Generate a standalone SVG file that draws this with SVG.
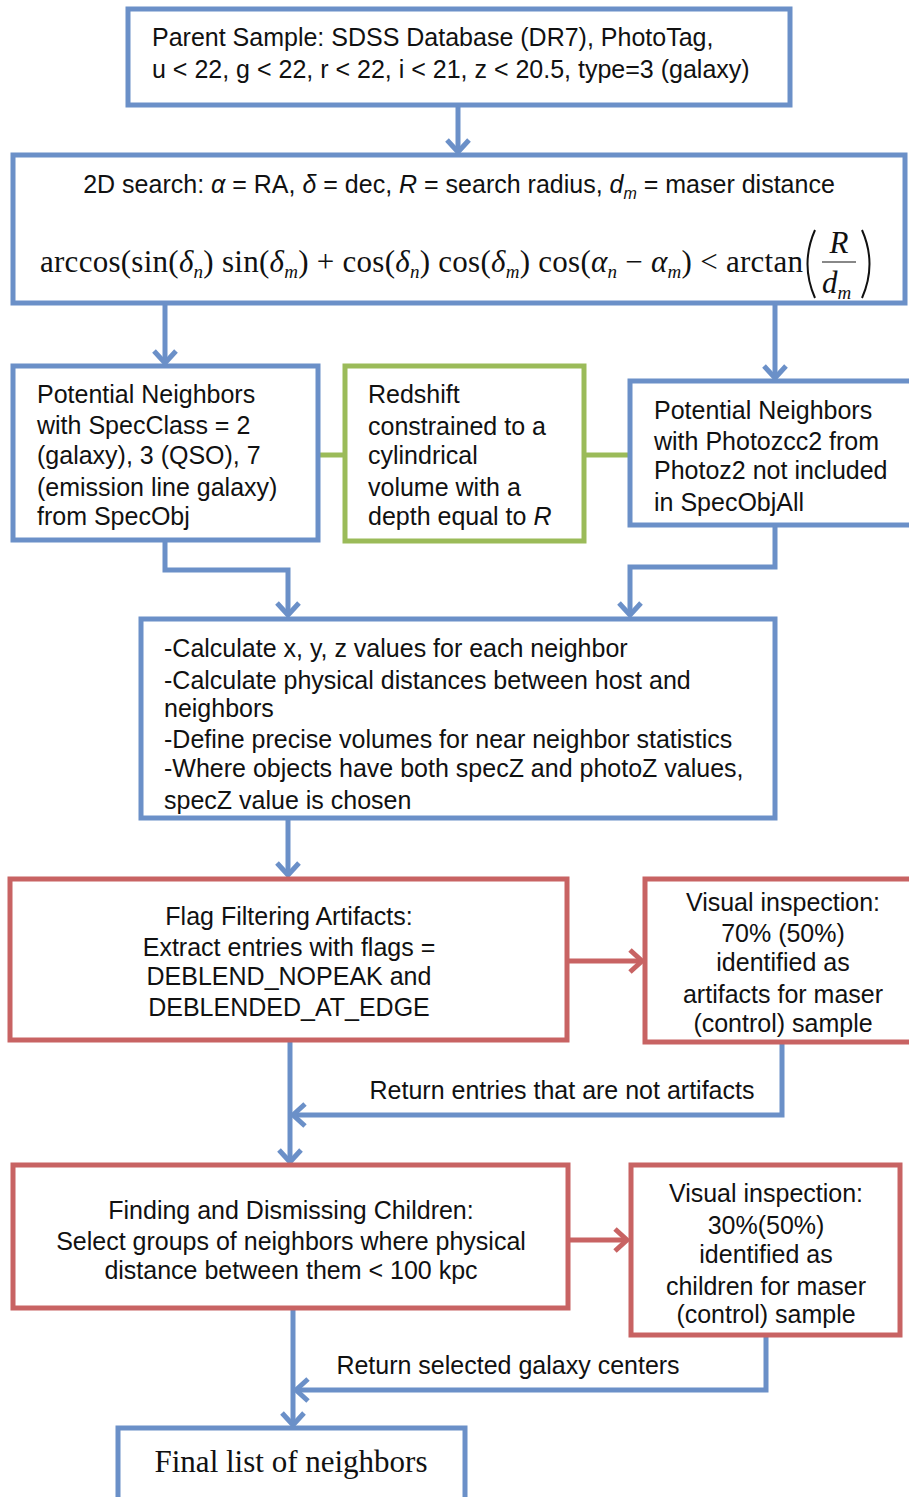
<svg xmlns="http://www.w3.org/2000/svg" width="909" height="1497" viewBox="0 0 909 1497">
<style>
.b{fill:#fff;stroke:#6b90c8;stroke-width:5}
.r{fill:#fff;stroke:#c86363;stroke-width:5}
.g{fill:#fff;stroke:#9bbb59;stroke-width:5}
.t{font-family:"Liberation Sans",Arial,sans-serif;font-size:25px;fill:#111}
.c{text-anchor:middle}
.m{font-family:"Liberation Serif","Times New Roman",serif;font-size:31px;fill:#111}
.i{font-style:italic}
.s{font-style:italic;font-size:19px}
.lb{fill:none;stroke:#6b90c8;stroke-width:5}
.lr{fill:none;stroke:#c86363;stroke-width:5}
.lg{fill:none;stroke:#9bbb59;stroke-width:5}
</style>
<defs>
<marker id="ab" markerUnits="userSpaceOnUse" markerWidth="30" markerHeight="30" refX="14" refY="11" orient="auto" viewBox="0 0 30 22" overflow="visible">
<polyline points="2,0 14,11 2,22" fill="none" stroke="#6b90c8" stroke-width="5"/>
</marker>
<marker id="ar" markerUnits="userSpaceOnUse" markerWidth="30" markerHeight="30" refX="14" refY="11" orient="auto" viewBox="0 0 30 22" overflow="visible">
<polyline points="2,0 14,11 2,22" fill="none" stroke="#c86363" stroke-width="5"/>
</marker>
</defs>
<rect width="909" height="1497" fill="#fff"/>
<g id="connectors">
<line class="lb" x1="458" y1="105" x2="458" y2="152" marker-end="url(#ab)"/>
<line class="lb" x1="165" y1="303" x2="165" y2="363" marker-end="url(#ab)"/>
<line class="lb" x1="775" y1="303" x2="775" y2="378" marker-end="url(#ab)"/>
<line class="lg" x1="318" y1="455" x2="345" y2="455"/>
<line class="lg" x1="584" y1="455" x2="630" y2="455"/>
<polyline class="lb" points="165,540 165,570 288,570 288,615" marker-end="url(#ab)"/>
<polyline class="lb" points="775,525 775,567 630,567 630,615" marker-end="url(#ab)"/>
<line class="lb" x1="288" y1="818" x2="288" y2="875" marker-end="url(#ab)"/>
<line class="lr" x1="567" y1="961" x2="642" y2="961" marker-end="url(#ar)"/>
<polyline class="lb" points="782,1042 782,1115 293,1115" marker-end="url(#ab)"/>
<line class="lb" x1="290" y1="1040" x2="290" y2="1162" marker-end="url(#ab)"/>
<line class="lr" x1="568" y1="1240" x2="627" y2="1240" marker-end="url(#ar)"/>
<polyline class="lb" points="766,1335 766,1390 296,1390" marker-end="url(#ab)"/>
<line class="lb" x1="293" y1="1308" x2="293" y2="1425" marker-end="url(#ab)"/>
<text class="t c" x="562" y="1099">Return entries that are not artifacts</text>
<text class="t c" x="508" y="1374">Return selected galaxy centers</text>
</g>
<g id="parent">
<rect class="b" x="128" y="9" width="662" height="96"/>
<text class="t" x="152" y="46">Parent Sample: SDSS Database (DR7), PhotoTag,</text>
<text class="t" x="152" y="78">u &lt; 22, g &lt; 22, r &lt; 22, i &lt; 21, z &lt; 20.5, type=3 (galaxy)</text>
</g>
<g id="search">
<rect class="b" x="13" y="155" width="892" height="148"/>
<text class="t c" x="459" y="193">2D search: <tspan class="i">α</tspan> = RA, <tspan class="i">δ</tspan> = dec, <tspan class="i">R</tspan> = search radius, <tspan class="i">d</tspan><tspan class="i" font-size="16" dy="6">m</tspan><tspan dy="-6"> = maser distance</tspan></text>
<text class="m" x="40" y="272" textLength="763" lengthAdjust="spacing">arccos(sin(<tspan class="i">δ</tspan><tspan class="s" dy="6">n</tspan><tspan dy="-6">) sin(</tspan><tspan class="i">δ</tspan><tspan class="s" dy="6">m</tspan><tspan dy="-6">) + cos(</tspan><tspan class="i">δ</tspan><tspan class="s" dy="6">n</tspan><tspan dy="-6">) cos(</tspan><tspan class="i">δ</tspan><tspan class="s" dy="6">m</tspan><tspan dy="-6">) cos(</tspan><tspan class="i">α</tspan><tspan class="s" dy="6">n</tspan><tspan dy="-6"> − </tspan><tspan class="i">α</tspan><tspan class="s" dy="6">m</tspan><tspan dy="-6">) &lt; arctan</tspan></text>
<path d="M815,230 Q800,264 815,298" fill="none" stroke="#111" stroke-width="2"/>
<path d="M862,230 Q877,264 862,298" fill="none" stroke="#111" stroke-width="2"/>
<text class="m i c" x="839" y="253">R</text>
<line x1="822" y1="262" x2="856" y2="262" stroke="#888" stroke-width="2"/>
<text class="m i" x="822" y="293">d<tspan class="s" dy="6">m</tspan></text>
</g>
<g id="spec">
<rect class="b" x="13" y="366" width="305" height="174"/>
<text class="t" x="37" y="403">Potential Neighbors</text>
<text class="t" x="37" y="434">with SpecClass = 2</text>
<text class="t" x="37" y="464">(galaxy), 3 (QSO), 7</text>
<text class="t" x="37" y="496">(emission line galaxy)</text>
<text class="t" x="37" y="525">from SpecObj</text>
</g>
<g id="redshift">
<rect class="g" x="345" y="366" width="239" height="175"/>
<text class="t" x="368" y="403">Redshift</text>
<text class="t" x="368" y="435">constrained to a</text>
<text class="t" x="368" y="464">cylindrical</text>
<text class="t" x="368" y="496">volume with a</text>
<text class="t" x="368" y="525">depth equal to <tspan class="i">R</tspan></text>
</g>
<g id="photoz">
<rect class="b" x="630" y="381" width="285" height="144"/>
<text class="t" x="654" y="419">Potential Neighbors</text>
<text class="t" x="654" y="450">with Photozcc2 from</text>
<text class="t" x="654" y="479">Photoz2 not included</text>
<text class="t" x="654" y="511">in SpecObjAll</text>
</g>
<g id="calc">
<rect class="b" x="141" y="619" width="634" height="199"/>
<text class="t" x="164" y="657">-Calculate x, y, z values for each neighbor</text>
<text class="t" x="164" y="689">-Calculate physical distances between host and</text>
<text class="t" x="164" y="717">neighbors</text>
<text class="t" x="164" y="748">-Define precise volumes for near neighbor statistics</text>
<text class="t" x="164" y="777">-Where objects have both specZ and photoZ values,</text>
<text class="t" x="164" y="809">specZ value is chosen</text>
</g>
<g id="flag">
<rect class="r" x="10" y="879" width="557" height="161"/>
<text class="t c" x="289" y="925">Flag Filtering Artifacts:</text>
<text class="t c" x="289" y="956">Extract entries with flags =</text>
<text class="t c" x="289" y="985">DEBLEND_NOPEAK and</text>
<text class="t c" x="289" y="1016">DEBLENDED_AT_EDGE</text>
</g>
<g id="visual1">
<rect class="r" x="645" y="879" width="270" height="163"/>
<text class="t c" x="783" y="911">Visual inspection:</text>
<text class="t c" x="783" y="942">70% (50%)</text>
<text class="t c" x="783" y="971">identified as</text>
<text class="t c" x="783" y="1003">artifacts for maser</text>
<text class="t c" x="783" y="1032">(control) sample</text>
</g>
<g id="children">
<rect class="r" x="13" y="1165" width="555" height="143"/>
<text class="t c" x="291" y="1219">Finding and Dismissing Children:</text>
<text class="t c" x="291" y="1250">Select groups of neighbors where physical</text>
<text class="t c" x="291" y="1279">distance between them &lt; 100 kpc</text>
</g>
<g id="visual2">
<rect class="r" x="631" y="1165" width="269" height="170"/>
<text class="t c" x="766" y="1202">Visual inspection:</text>
<text class="t c" x="766" y="1234">30%(50%)</text>
<text class="t c" x="766" y="1263">identified as</text>
<text class="t c" x="766" y="1295">children for maser</text>
<text class="t c" x="766" y="1323">(control) sample</text>
</g>
<g id="final">
<rect class="b" x="118" y="1428" width="347" height="80"/>
<text class="m c" x="291" y="1472" font-size="34">Final list of neighbors</text>
</g>
</svg>
